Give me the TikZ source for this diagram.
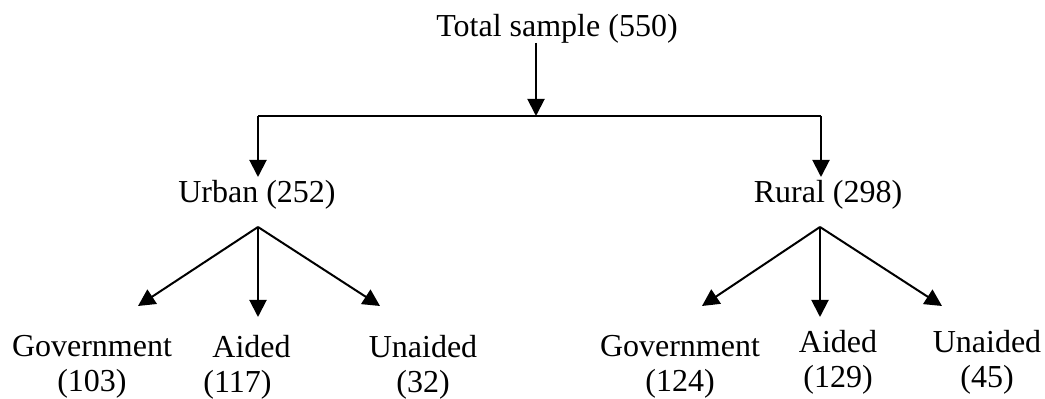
\documentclass[tikz,border=0pt]{standalone}
\usepackage{fontspec}
\setmainfont{Liberation Serif}
\usetikzlibrary{arrows.meta}
\begin{document}
\begin{tikzpicture}[x=0.5pt,y=-0.5pt,
  lbl/.style={inner sep=0pt,font=\fontsize{16}{17.5}\selectfont},
  conn/.style={line width=1pt,-{Triangle[length=8.5pt,width=8.5pt]}},
  plain/.style={line width=1pt}]
\useasboundingbox (0,0) rectangle (1045,399);
% labels
\node[lbl,anchor=base] (total) at (557,37) {Total sample (550)};
\node[lbl,anchor=base] (urban) at (257,203) {Urban (252)};
\node[lbl,anchor=base] (rural) at (828,203) {Rural (298)};
\node[lbl,anchor=north,align=center] (ugov) at (92,335) {Government\\(103)};
\node[lbl,anchor=north west,align=left] (uaid) at (203,335) {\hspace{4.5pt}Aided\\(117)};
\node[lbl,anchor=north,align=center] (uuna) at (423,335) {Unaided\\(32)};
\node[lbl,anchor=north,align=center] (rgov) at (680,335) {Government\\(124)};
\node[lbl,anchor=north,align=center] (raid) at (838,330) {Aided\\(129)};
\node[lbl,anchor=north,align=center] (runa) at (987,330) {Unaided\\(45)};
% connector points
\coordinate (ts) at (536,43);
\coordinate (tj) at (536,116);
\coordinate (lj) at (258,116);
\coordinate (rj) at (821,116);
\coordinate (ut) at (258,177);
\coordinate (rt) at (821,177);
\coordinate (uf) at (258,227);
\coordinate (rf) at (820,227);
\coordinate (ug) at (138,306);
\coordinate (ua) at (258,317);
\coordinate (uu) at (380,306);
\coordinate (rg) at (702,306);
\coordinate (ra) at (820,317);
\coordinate (ru) at (942,306);
% connectors
\draw[conn] (ts) -- (tj);
\draw[plain] (lj) -- (rj);
\draw[conn] (lj) -- (ut);
\draw[conn] (rj) -- (rt);
\draw[conn] (uf) -- (ug);
\draw[conn] (uf) -- (ua);
\draw[conn] (uf) -- (uu);
\draw[conn] (rf) -- (rg);
\draw[conn] (rf) -- (ra);
\draw[conn] (rf) -- (ru);
\end{tikzpicture}
\end{document}
